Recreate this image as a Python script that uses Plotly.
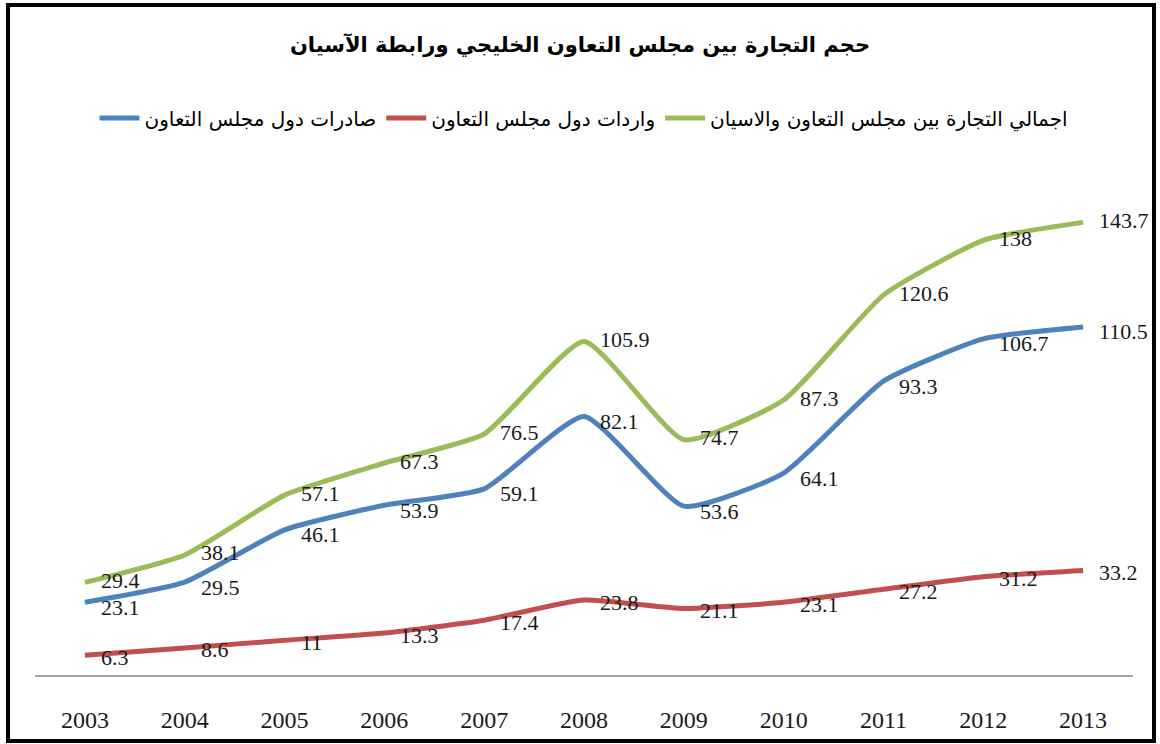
import plotly.graph_objects as go

years = [2003, 2004, 2005, 2006, 2007, 2008, 2009, 2010, 2011, 2012, 2013]
exports = [23.1, 29.5, 46.1, 53.9, 59.1, 82.1, 53.6, 64.1, 93.3, 106.7, 110.5]
imports = [6.3, 8.6, 11, 13.3, 17.4, 23.8, 21.1, 23.1, 27.2, 31.2, 33.2]
total = [29.4, 38.1, 57.1, 67.3, 76.5, 105.9, 74.7, 87.3, 120.6, 138, 143.7]

name_exports = "صادرات دول مجلس التعاون"
name_imports = "واردات دول مجلس التعاون"
name_total = "اجمالي التجارة بين مجلس التعاون والاسيان"
title_text = "حجم التجارة بين مجلس التعاون الخليجي ورابطة الآسيان"

# (name, values, colour, vertical label nudge in px)
series = [
    (name_exports, exports, "#4F81BD", -5),
    (name_imports, imports, "#C0504D", -2),
    (name_total, total, "#9BBB59", 2),
]

W, H = 1160, 744
ml, mr, mt, mb = 35, 27, 171, 69
pw, ph = W - ml - mr, H - mt - mb

fig = go.Figure()
annotations = []
for name, vals, color, ysh in series:
    fig.add_trace(go.Scatter(
        x=years, y=vals, name=name, mode="lines",
        line=dict(color=color, width=5, shape="spline", smoothing=0.5),
        hoverinfo="skip",
    ))
    for xv, yv in zip(years, vals):
        annotations.append(go.layout.Annotation(
            x=xv, y=yv, xref="x", yref="y", text=str(yv),
            showarrow=False, xanchor="left", yanchor="middle", xshift=14, yshift=ysh,
            font=dict(family="Liberation Serif", size=22, color="#1a1a1a"),
        ))

def px_x(p):
    return (p - ml) / pw

def px_y(p):
    return (H - mb - p) / ph

fig.update_layout(
    width=W, height=H,
    margin=dict(l=ml, r=mr, t=mt, b=mb),
    paper_bgcolor="white", plot_bgcolor="white",
    title=dict(text=title_text, x=0.5, xanchor="center", y=1 - 45 / H, yanchor="middle",
               font=dict(family="DejaVu Sans", size=21, color="black", weight="bold")),
    legend=dict(orientation="h", x=0.5, xanchor="center", y=px_y(118), yanchor="middle",
                font=dict(family="DejaVu Sans", size=20, color="black"),
                itemwidth=40, traceorder="normal"),
    xaxis=dict(range=[2002.5, 2013.5], tickvals=years, ticktext=[str(y) for y in years],
               showgrid=False, zeroline=False,
               showline=True, linecolor="#A6A6A6", linewidth=2, ticks="",
               ticklabelstandoff=22,
               tickfont=dict(family="Liberation Serif", size=24, color="#1a1a1a")),
    yaxis=dict(range=[0, 160], showticklabels=False, showline=False, showgrid=False,
               zeroline=False, ticks=""),
    shapes=[dict(type="rect", xref="paper", yref="paper",
                 x0=px_x(8), x1=px_x(1154), y0=px_y(741), y1=px_y(5),
                 line=dict(color="black", width=4), fillcolor="rgba(0,0,0,0)", layer="above")],
    showlegend=True,
)
for a in annotations:
    fig.add_annotation(a)

fig.write_html("out.html")
